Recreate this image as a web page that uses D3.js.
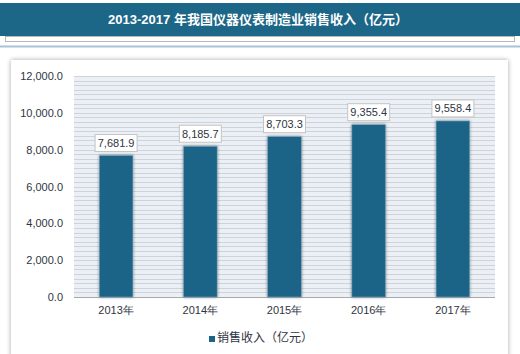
<!DOCTYPE html>
<html>
<head>
<meta charset="utf-8">
<script src="https://cdn.jsdelivr.net/npm/d3@7"></script>
<style>
  body { margin: 0; background: #fff; }
  svg { display: block; font-family: "Liberation Sans", "Noto Sans CJK SC", sans-serif; }
</style>
</head>
<body>
<div id="chart-area"></div>
<script>
// data
var years = ['2013年', '2014年', '2015年', '2016年', '2017年'];
var sales = [7681.9, 8185.7, 8703.3, 9355.4, 9558.4];
var yTicks = [0, 2000, 4000, 6000, 8000, 10000, 12000];
var title = '2013-2017 年我国仪器仪表制造业销售收入（亿元）';
var seriesName = '销售收入（亿元）';

var W = 520, H = 354;
var margin = { top: 76, right: 25, bottom: 57, left: 74 },
	width = W - margin.left - margin.right,
	height = H - margin.top - margin.bottom;

var barColor = '#1b6488';

var svg = d3.select('#chart-area')
	.append('svg')
		.attr('width', W)
		.attr('height', H);

var defs = svg.append('defs');
var sh = defs.append('filter').attr('id', 'boxShadow')
	.attr('x', '-5%').attr('y', '-5%').attr('width', '110%').attr('height', '110%');
sh.append('feGaussianBlur').attr('in', 'SourceAlpha').attr('stdDeviation', 2.5);
sh.append('feOffset').attr('dx', 0).attr('dy', 0).attr('result', 'b');
sh.append('feComponentTransfer').append('feFuncA').attr('type', 'linear').attr('slope', 0.35);
var m1 = sh.append('feMerge');
m1.append('feMergeNode');
m1.append('feMergeNode').attr('in', 'SourceGraphic');

var bs = defs.append('filter').attr('id', 'barShadow')
	.attr('x', '-30%').attr('y', '-10%').attr('width', '160%').attr('height', '120%');
bs.append('feGaussianBlur').attr('in', 'SourceAlpha').attr('stdDeviation', 1.6);
bs.append('feComponentTransfer').append('feFuncA').attr('type', 'linear').attr('slope', 0.45);
var m2 = bs.append('feMerge');
m2.append('feMergeNode');
m2.append('feMergeNode').attr('in', 'SourceGraphic');

// title bar
svg.append('rect')
	.attr('x', 0).attr('y', 3)
	.attr('width', W).attr('height', 33)
	.attr('fill', '#1c6688');

svg.append('text')
	.attr('x', W / 2 - 2)
	.attr('y', 24)
	.attr('text-anchor', 'middle')
	.attr('fill', '#fff')
	.attr('font-size', '13px')
	.attr('font-weight', 'bold')
	.text(title);

// thin table under title
svg.append('rect')
	.attr('x', 5.5).attr('y', 36.5)
	.attr('width', W - 11).attr('height', 5)
	.attr('fill', 'none')
	.attr('stroke', '#b8b8b8')
	.attr('stroke-width', 1);
svg.append('rect')
	.attr('x', 0).attr('y', 45.5)
	.attr('width', W).attr('height', 2)
	.attr('fill', '#a8c4d4');

// chart box
svg.append('rect')
	.attr('x', 11).attr('y', 60)
	.attr('width', 497).attr('height', 310)
	.attr('fill', '#fff')
	.attr('filter', 'url(#boxShadow)');

var g = svg.append('g')
	.attr('transform', 'translate(' + margin.left + ', ' + margin.top + ')');

var xScale = d3.scaleBand()
	.domain(years)
	.range([0, width])
	.paddingInner(0.6)
	.paddingOuter(0.3);

var yScale = d3.scaleLinear()
	.domain([0, 12000])
	.range([height, 0]);

// plot background + minor grid
g.append('rect')
	.attr('width', width).attr('height', height)
	.attr('fill', '#eaf0f6');

g.selectAll('.grid')
	.data(d3.range(250, 12001, 250))
	.enter().append('line')
		.attr('class', 'grid')
		.attr('x1', 0).attr('x2', width)
		.attr('y1', d => Math.round(yScale(d)) + 0.5)
		.attr('y2', d => Math.round(yScale(d)) + 0.5)
		.attr('stroke', '#cfd2d6')
		.attr('stroke-width', 1);

// y axis
var yAxis = d3.axisLeft(yScale)
	.tickValues(yTicks)
	.tickSize(0)
	.tickPadding(11)
	.tickFormat(d3.format(',.1f'));

var yAxisGroup = g.append('g')
	.attr('class', 'y-axis')
	.call(yAxis);
yAxisGroup.select('.domain').remove();
yAxisGroup.selectAll('text')
	.attr('font-size', '11px')
	.attr('fill', '#2f3542');

// baseline
g.append('line')
	.attr('x1', 0).attr('x2', width)
	.attr('y1', height + 0.5).attr('y2', height + 0.5)
	.attr('stroke', '#a9a9a9');

// x axis
var xAxis = d3.axisBottom(xScale).tickSize(0).tickPadding(9);
var xAxisGroup = g.append('g')
	.attr('class', 'x-axis')
	.attr('transform', 'translate(0, ' + height + ')')
	.call(xAxis);
xAxisGroup.select('.domain').remove();
xAxisGroup.selectAll('text')
	.attr('font-size', '11px')
	.attr('fill', '#2f3542');

// bars
var bars = g.selectAll('.bar')
	.data(sales)
	.enter().append('rect')
		.attr('class', 'bar')
		.attr('x', (d, i) => xScale(years[i]))
		.attr('y', d => yScale(d))
		.attr('width', xScale.bandwidth())
		.attr('height', d => height - yScale(d))
		.attr('fill', barColor)
		.attr('stroke', '#7fa6bb')
		.attr('stroke-width', 0.6)
		.attr('filter', 'url(#barShadow)');

// value labels
var fmt = d3.format(',.1f');
var labels = g.selectAll('.lbl')
	.data(sales)
	.enter().append('g')
		.attr('class', 'lbl')
		.attr('transform', (d, i) => 'translate(' + (xScale(years[i]) + xScale.bandwidth() / 2) + ', ' + (yScale(d) - 4) + ')');

labels.append('rect')
	.attr('x', -21).attr('y', -17)
	.attr('width', 42).attr('height', 17)
	.attr('fill', '#fff')
	.attr('stroke', '#c4c4c4')
	.attr('stroke-width', 1);

labels.append('text')
	.attr('x', 0).attr('y', -4.5)
	.attr('text-anchor', 'middle')
	.attr('font-size', '11px')
	.attr('fill', '#2f3542')
	.text(d => fmt(d));

// legend
var legend = svg.append('g')
	.attr('transform', 'translate(209, 338)');
legend.append('rect')
	.attr('x', 0).attr('y', -2)
	.attr('width', 6).attr('height', 6)
	.attr('fill', barColor);
legend.append('text')
	.attr('x', 8).attr('y', 4)
	.attr('font-size', '12px')
	.attr('fill', '#2f3542')
	.text(seriesName);
</script>
</body>
</html>
